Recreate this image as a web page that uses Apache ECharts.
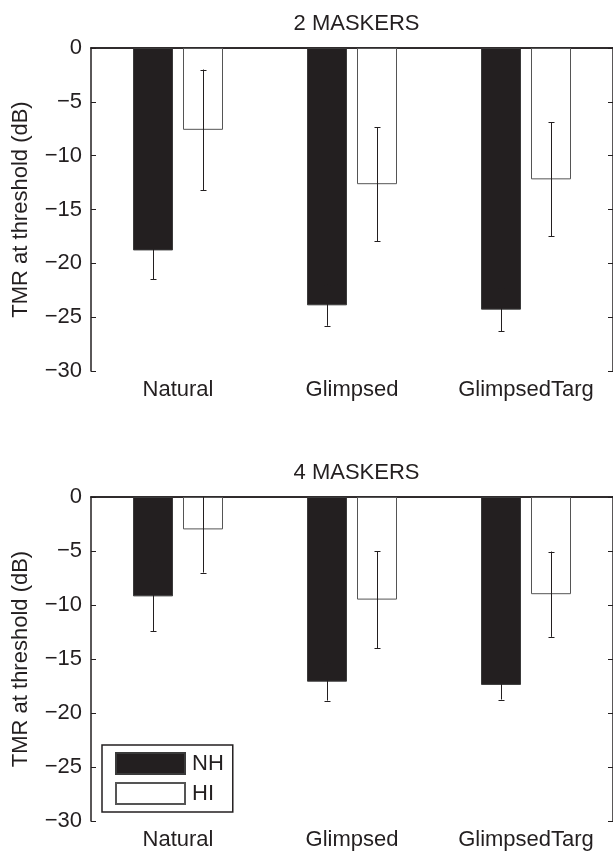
<!DOCTYPE html>
<html>
<head>
<meta charset="utf-8">
<script src="https://cdn.jsdelivr.net/npm/echarts@6/dist/echarts.min.js"></script>
<style>
html,body{margin:0;padding:0;background:#fff;}
#chart{width:613px;height:852px;}
</style>
</head>
<body>
<div id="chart"></div>
<script>
// ---- data ----
const categories = ['Natural', 'Glimpsed', 'GlimpsedTarg'];
const seriesNames = ['NH', 'HI'];
const panelTitles = ['2 MASKERS', '4 MASKERS'];
// 2 maskers
const nh2 = [-18.8, -23.9, -24.3];
const nh2Err = [2.7, 1.9, 2.0];
const hi2 = [-7.6, -12.65, -12.2];
const hi2Err = [5.6, 5.3, 5.3];
// 4 maskers
const nh4 = [-9.2, -17.1, -17.4];
const nh4Err = [3.25, 1.75, 1.35];
const hi4 = [-3.0, -9.5, -9.0];
const hi4Err = [4.0, 4.5, 3.95];
// axis
const yMin = -30, yMax = 0, yStep = 5;
const yAxisName = 'TMR at threshold (dB)';

// ---- styling ----
const INK = '#231f20';
const FONT = 'Liberation Sans, Arial, Helvetica, sans-serif';
const FS = 22;
const BAR_W = 40, BAR_GAP = 10;
const grids = [
  { left: 91, width: 523, top: 48, height: 323 },
  { left: 91, width: 523, top: 497, height: 324 }
];
const titleTops = [13, 462];

const panels = [
  { nh: nh2, nhErr: nh2Err, hi: hi2, hiErr: hi2Err },
  { nh: nh4, nhErr: nh4Err, hi: hi4, hiErr: hi4Err }
];

function errData(mean, err) {
  return mean.map((m, i) => [i, m - err[i], m + err[i]]);
}
function errRender(offset) {
  return function (params, api) {
    const i = api.value(0);
    const pLo = api.coord([i, api.value(1)]);
    const pHi = api.coord([i, api.value(2)]);
    const x = Math.round(pLo[0] + offset) + 0.5;
    const style = { stroke: INK, lineWidth: 1, fill: null };
    return {
      type: 'group',
      children: [
        { type: 'line', shape: { x1: x, y1: pLo[1], x2: x, y2: pHi[1] }, style },
        { type: 'line', shape: { x1: x - 3, y1: Math.round(pLo[1]) + 0.5, x2: x + 3, y2: Math.round(pLo[1]) + 0.5 }, style },
        { type: 'line', shape: { x1: x - 3, y1: Math.round(pHi[1]) + 0.5, x2: x + 3, y2: Math.round(pHi[1]) + 0.5 }, style }
      ]
    };
  };
}

const xAxes = [], yAxes = [], series = [], titles = [];
grids.forEach((g, gi) => {
  titles.push({
    text: panelTitles[gi],
    left: g.left + g.width / 2 + 4,
    top: titleTops[gi],
    padding: 0,
    textAlign: 'center',
    textStyle: { fontFamily: FONT, fontSize: FS, fontWeight: 'normal', color: INK }
  });
  // bottom category axis
  xAxes.push({
    type: 'category', gridIndex: gi, data: categories, position: 'bottom',
    boundaryGap: true,
    axisLine: { lineStyle: { color: INK, width: 1.5 } },
    axisTick: { inside: true, length: 5, alignWithLabel: true, interval: 0, lineStyle: { color: INK, width: 1 } },
    axisLabel: { margin: 8, interval: 0, hideOverlap: false, fontFamily: FONT, fontSize: FS, color: INK },
    splitLine: { show: false }
  });
  // top mirror axis
  xAxes.push({
    type: 'category', gridIndex: gi, data: categories, position: 'top',
    boundaryGap: true,
    axisLine: { lineStyle: { color: INK, width: 1.5 } },
    axisTick: { inside: true, length: 5, alignWithLabel: true, interval: 0, lineStyle: { color: INK, width: 1 } },
    axisLabel: { show: false, interval: 0 },
    splitLine: { show: false }
  });
  yAxes.push({
    type: 'value', gridIndex: gi, min: yMin, max: yMax, interval: yStep, position: 'left',
    name: yAxisName, nameLocation: 'middle', nameGap: 59,
    nameTextStyle: { fontFamily: FONT, fontSize: FS, color: INK },
    axisLine: { show: true, lineStyle: { color: INK, width: 1.5 } },
    axisTick: { show: true, inside: true, length: 5, lineStyle: { color: INK, width: 1 } },
    axisLabel: { margin: 9, fontFamily: FONT, fontSize: FS, color: INK,
      formatter: v => String(v).replace('-', '\u2212') },
    splitLine: { show: false }
  });
  yAxes.push({
    type: 'value', gridIndex: gi, min: yMin, max: yMax, interval: yStep, position: 'right',
    axisLine: { show: true, lineStyle: { color: INK, width: 1.5 } },
    axisTick: { show: true, inside: true, length: 5, lineStyle: { color: INK, width: 1 } },
    axisLabel: { show: false },
    splitLine: { show: false }
  });
  const p = panels[gi];
  const xi = gi * 2, yi = gi * 2;
  series.push({
    name: seriesNames[0], type: 'bar', xAxisIndex: xi, yAxisIndex: yi,
    data: p.nh, barWidth: BAR_W, barGap: (BAR_GAP / BAR_W * 100) + '%',
    itemStyle: { color: INK, borderColor: '#3a3a3a', borderWidth: 1 },
    emphasis: { disabled: true }, animation: false
  });
  series.push({
    name: seriesNames[1], type: 'bar', xAxisIndex: xi, yAxisIndex: yi,
    data: p.hi, barWidth: BAR_W, barGap: (BAR_GAP / BAR_W * 100) + '%',
    itemStyle: { color: '#ffffff', borderColor: '#555555', borderWidth: 1 },
    emphasis: { disabled: true }, animation: false
  });
  const off = BAR_W / 2 + BAR_GAP / 2;
  series.push({
    type: 'custom', xAxisIndex: xi, yAxisIndex: yi, clip: true, z: 5,
    data: errData(p.nh, p.nhErr), renderItem: errRender(-off), animation: false, silent: true
  });
  series.push({
    type: 'custom', xAxisIndex: xi, yAxisIndex: yi, clip: true, z: 5,
    data: errData(p.hi, p.hiErr), renderItem: errRender(off), animation: false, silent: true
  });
});

const chart = echarts.init(document.getElementById('chart'), null, { renderer: 'canvas' });
chart.setOption({
  backgroundColor: '#ffffff',
  animation: false,
  title: titles,
  grid: grids,
  xAxis: xAxes,
  yAxis: yAxes,
  legend: {
    data: seriesNames,
    orient: 'vertical',
    left: 102, top: 745,
    icon: 'rect',
    itemWidth: 69, itemHeight: 21, itemGap: 7,
    padding: [7, 9, 7, 13],
    borderColor: INK, borderWidth: 1.5,
    backgroundColor: '#ffffff',
    textStyle: { fontFamily: FONT, fontSize: FS, color: INK, padding: [0, 0, 0, 2] },
    selectedMode: false
  },
  series: series
});
</script>
</body>
</html>
